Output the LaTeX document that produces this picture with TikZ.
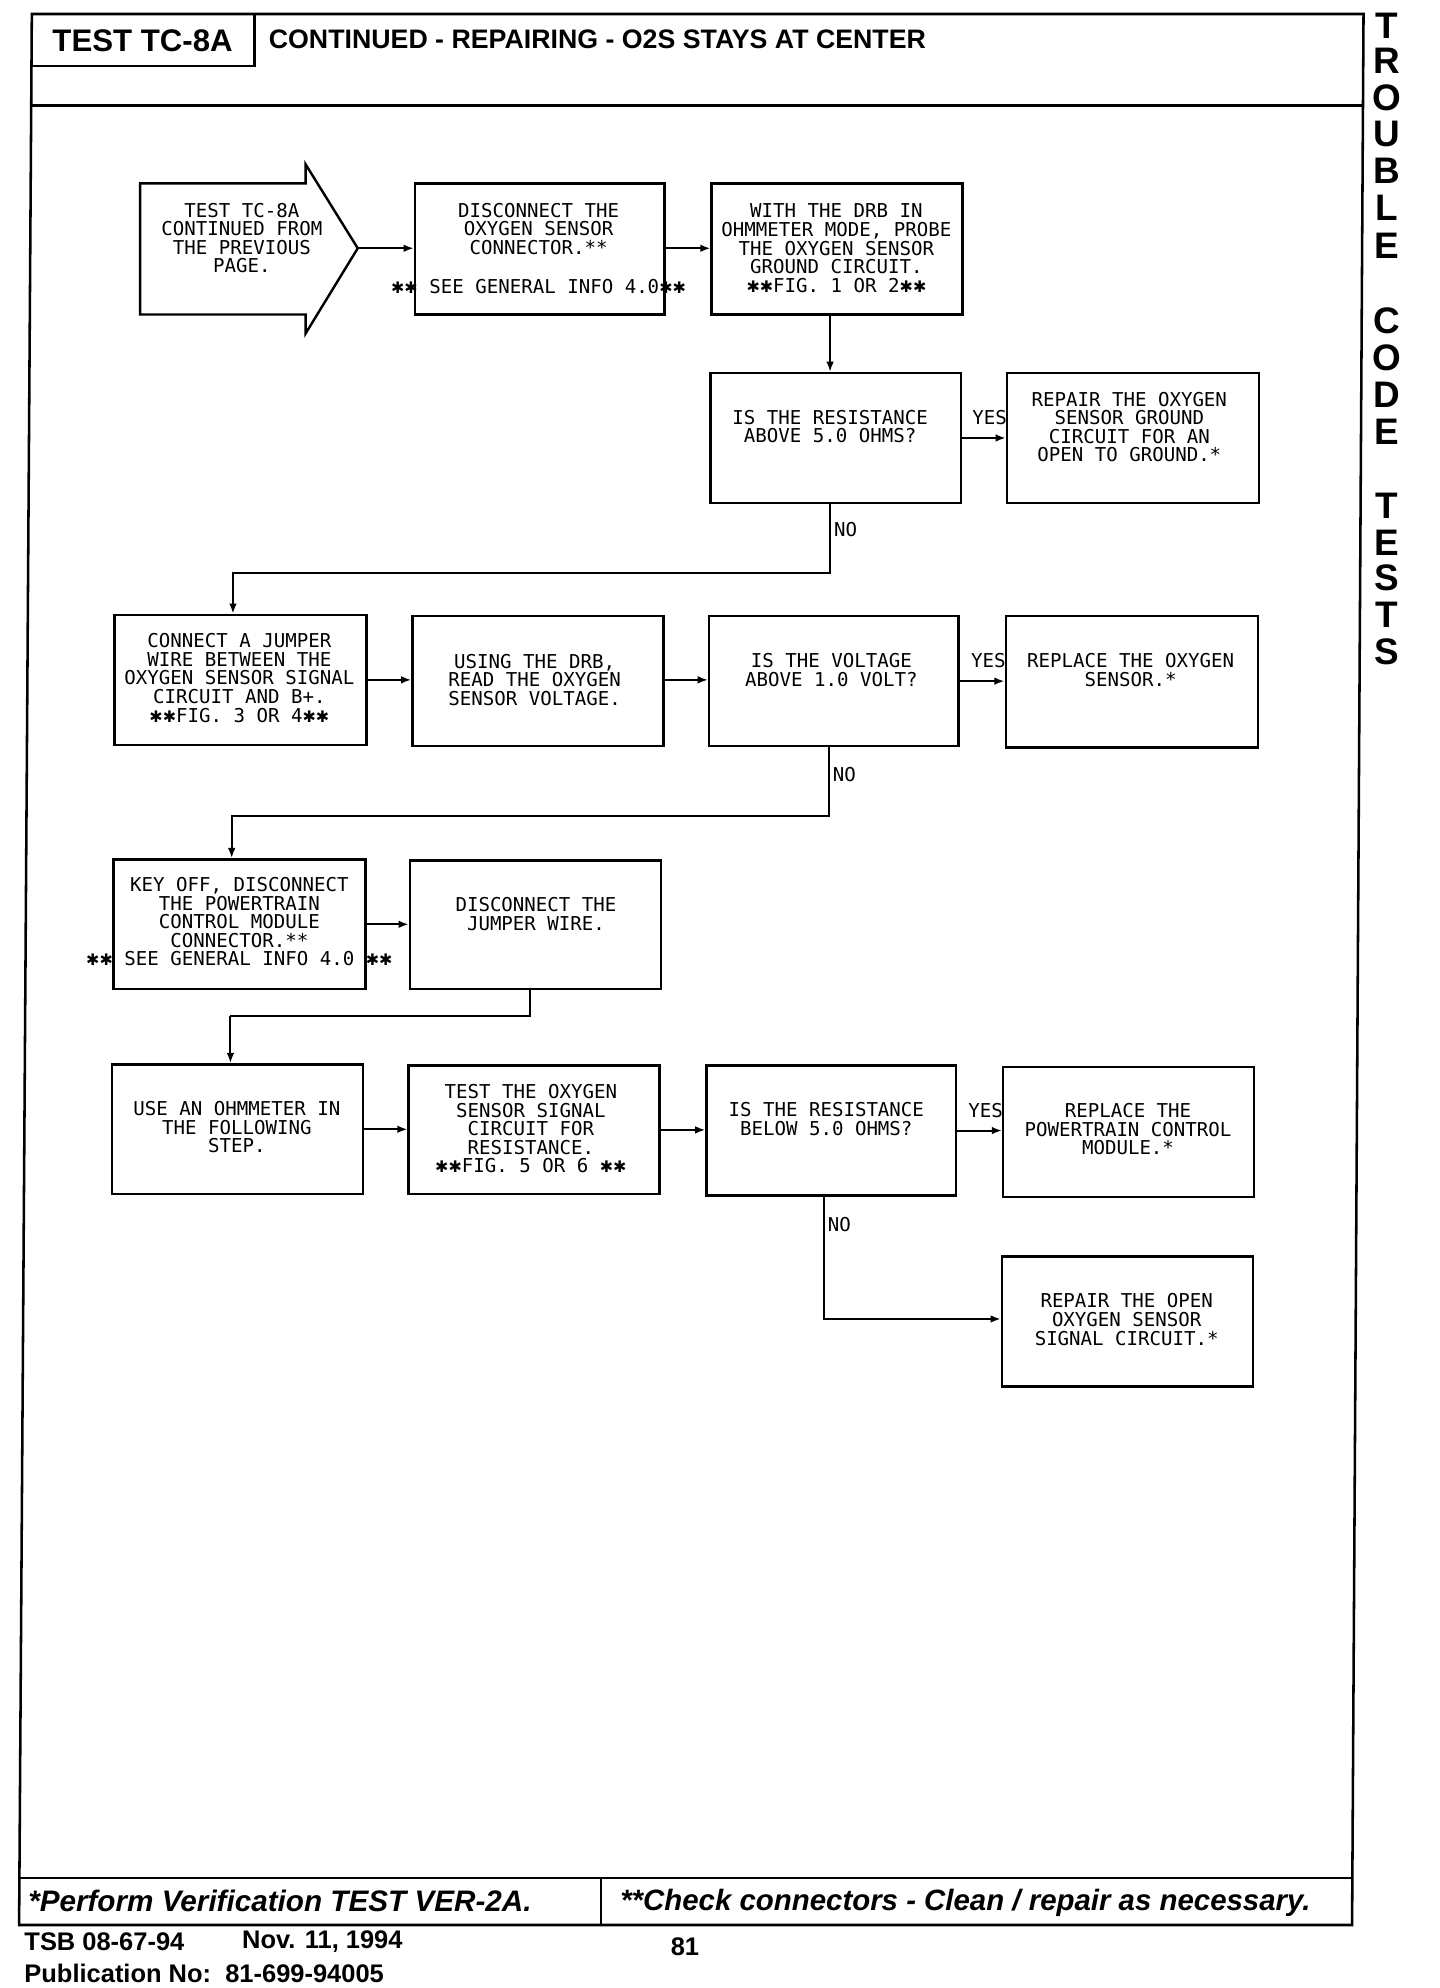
\documentclass[tikz,border=0pt]{standalone}
\usepackage{fontspec}
\setmainfont{Liberation Sans}
\newfontfamily\plotf{DejaVu Sans Mono}
\newfontfamily\symf{DejaVu Sans}
\usetikzlibrary{arrows.meta}
\newcommand{\dst}{{\symf\fontsize{12.5}{12.5}\selectfont ✱}}
\begin{document}
\begin{tikzpicture}[x=1pt,y=-1pt,
  box/.style={draw, line width=1.9pt, inner sep=0pt},
  txt/.style={font=\plotf\fontsize{15}{14.6}\selectfont, align=center, inner sep=0pt},
  lbl/.style={font=\plotf\fontsize{15}{14.6}\selectfont, inner sep=0pt},
  arr/.style={line width=1.6pt, -{Latex[length=8pt,width=6pt]}},
  ln/.style={line width=1.6pt},
  frm/.style={line width=2pt},
  hdr/.style={inner sep=0pt, font=\bfseries\fontsize{21}{21}\selectfont},
  foot/.style={inner sep=0pt, anchor=west, font=\bfseries\fontsize{20}{20}\selectfont},
  side/.style={inner sep=0pt, font=\bfseries\fontsize{29}{29}\selectfont}]
\useasboundingbox (0,0) rectangle (1131,1561.5);
\fill[white] (0,0) rectangle (1131,1561.5);

% frame
\draw[frm] (25,11) -- (1071,11) -- (1062,1512) -- (15,1512) -- cycle;
\draw[frm] (24.5,83) -- (1070.6,83);
\draw[frm] (25,52) -- (200,52) -- (200,11);
\draw[frm] (15.7,1475) -- (1062.2,1475);
\draw[frm] (472,1475) -- (472,1512);

\node[hdr, font=\bfseries\fontsize{24.5}{24.5}\selectfont] (hA) at (112,32) {TEST TC-8A};
\node[hdr, anchor=west] (hB) at (211,31) {CONTINUED - REPAIRING - O2S STAYS AT CENTER};

% side text
\foreach \ch/\yy [count=\i] in {T/20,R/48,O/77,U/105,B/134,L/163,E/193,C/252,O/281,D/310,E/339,T/397,E/426,S/454,T/483,S/512}
  \node[side] (s\i) at (1089,\yy) {\ch};

% footer
\node[foot, font=\bfseries\itshape\fontsize{23.3}{23.3}\selectfont] (f1) at (22,1493) {*Perform Verification TEST VER-2A.};
\node[foot, font=\bfseries\itshape\fontsize{23.1}{23.1}\selectfont] (f2) at (487,1495) {**Check connectors - Clean / repair as necessary.};
\node[foot] (f3) at (19,1525) {TSB 08-67-94};
\node[foot] (f4) at (190,1525) {Nov. 11, 1994};
\node[foot, anchor=center] (f5) at (538,1529) {81};
\node[foot] (f6) at (19,1550) {Publication No:\ \ 81-699-94005};

% start arrow shape
\draw[box] (110,144) -- (240,144) -- (240,129) -- (281,195) -- (240,262) -- (240,247) -- (110,247) -- cycle;
\coordinate (Atip) at (281,195);
\node[txt] (tA) at (190,187) {TEST TC-8A\\CONTINUED FROM\\THE PREVIOUS\\PAGE.};

% boxes
\node[box, minimum width=196pt, minimum height=103pt] (B) at (424,195.5) {};
\node[box, minimum width=197pt, minimum height=103pt] (C) at (657.5,195.5) {};
\node[box, minimum width=197pt, minimum height=102pt] (D) at (656.5,344) {};
\node[box, minimum width=198pt, minimum height=102pt] (E) at (890,344) {};
\node[box, minimum width=198pt, minimum height=102pt] (F) at (189,534) {};
\node[box, minimum width=197pt, minimum height=102pt] (G) at (422.5,535) {};
\node[box, minimum width=196pt, minimum height=102pt] (H) at (655,535) {};
\node[box, minimum width=198pt, minimum height=103pt] (I) at (889,535.5) {};
\node[box, minimum width=198pt, minimum height=102pt] (J) at (188,726) {};
\node[box, minimum width=197pt, minimum height=101pt] (K) at (420.5,726.5) {};
\node[box, minimum width=197pt, minimum height=102pt] (L) at (186.5,887) {};
\node[box, minimum width=197pt, minimum height=101pt] (M) at (419.5,887.5) {};
\node[box, minimum width=196pt, minimum height=102pt] (N) at (653,888) {};
\node[box, minimum width=197pt, minimum height=102pt] (O) at (886.5,889) {};
\node[box, minimum width=197pt, minimum height=102pt] (P) at (885.5,1038) {};

% texts
\node[txt] (tB) at (423,195) {DISCONNECT THE\\OXYGEN SENSOR\\CONNECTOR.**\\[16pt]\dst\dst\ SEE GENERAL INFO 4.0\dst\dst};
\node[txt] (tC) at (657,195) {WITH THE DRB IN\\OHMMETER MODE, PROBE\\THE OXYGEN SENSOR\\GROUND CIRCUIT.\\\dst\dst FIG. 1 OR 2\dst\dst};
\node[txt] (tD) at (652,335) {IS THE RESISTANCE\\ABOVE 5.0 OHMS?};
\node[txt] (tE) at (887,335.5) {REPAIR THE OXYGEN\\SENSOR GROUND\\CIRCUIT FOR AN\\OPEN TO GROUND.*};
\node[txt] (tF) at (188,532.5) {CONNECT A JUMPER\\WIRE BETWEEN THE\\OXYGEN SENSOR SIGNAL\\CIRCUIT AND B+.\\\dst\dst FIG. 3 OR 4\dst\dst};
\node[txt] (tG) at (420,534) {USING THE DRB,\\READ THE OXYGEN\\SENSOR VOLTAGE.};
\node[txt] (tH) at (653,526.5) {IS THE VOLTAGE\\ABOVE 1.0 VOLT?};
\node[txt] (tI) at (888,526.5) {REPLACE THE OXYGEN\\SENSOR.*};
\node[txt] (tJ) at (188,724) {KEY OFF, DISCONNECT\\THE POWERTRAIN\\CONTROL MODULE\\CONNECTOR.**\\\dst\dst\ SEE GENERAL INFO 4.0 \dst\dst};
\node[txt] (tK) at (421,718) {DISCONNECT THE\\JUMPER WIRE.};
\node[txt] (tL) at (186,885.5) {USE AN OHMMETER IN\\THE FOLLOWING\\STEP.};
\node[txt] (tM) at (417,886.5) {TEST THE OXYGEN\\SENSOR SIGNAL\\CIRCUIT FOR\\RESISTANCE.\\\dst\dst FIG. 5 OR 6 \dst\dst};
\node[txt] (tN) at (649,879) {IS THE RESISTANCE\\BELOW 5.0 OHMS?};
\node[txt] (tO) at (886,887) {REPLACE THE\\POWERTRAIN CONTROL\\MODULE.*};
\node[txt] (tP) at (885,1036.5) {REPAIR THE OPEN\\OXYGEN SENSOR\\SIGNAL CIRCUIT.*};

% routing coordinates
\coordinate (r1a) at (652,450);
\coordinate (r1b) at (183,450);
\coordinate (r2a) at (651,641);
\coordinate (r2b) at (182,641);
\coordinate (r3a) at (416,798);
\coordinate (r3b) at (181,798);
\coordinate (r4a) at (647,1036);

% connectors
\draw[arr] (Atip) -- (Atip -| B.west);
\draw[arr] (B.east |- Atip) -- (C.west |- Atip);
\draw[arr] (C.south -| r1a) -- (D.north -| r1a);
\draw[arr] (D.east) -- (D.east -| E.west);
\draw[arr] (D.south -| r1a) -- (r1a) -- (r1b) -- (F.north -| r1b);
\draw[arr] (F.east) -- (F.east -| G.west);
\draw[arr] (G.east |- F.east) -- (H.west |- F.east);
\draw[arr] (H.east) -- (H.east -| I.west);
\draw[arr] (H.south -| r2a) -- (r2a) -- (r2b) -- (J.north -| r2b);
\draw[arr] (J.east) -- (J.east -| K.west);
\draw[ln] (K.south -| r3a) -- (r3a) -- (r3b);
\draw[arr] (r3b) -- (L.north -| r3b);
\draw[arr] (L.east) -- (L.east -| M.west);
\draw[arr] (M.east) -- (M.east -| N.west);
\draw[arr] (N.east) -- (N.east -| O.west);
\draw[arr] (N.south -| r4a) -- (r4a) -- (r4a -| P.west);

% labels
\node[lbl, anchor=east] (y1) at (791,328) {YES};
\node[lbl, anchor=east] (y2) at (790,519) {YES};
\node[lbl, anchor=east] (y3) at (788,872) {YES};
\node[lbl, anchor=west] (n1) at (655,416) {NO};
\node[lbl, anchor=west] (n2) at (654,608) {NO};
\node[lbl, anchor=west] (n3) at (650,962) {NO};
\end{tikzpicture}
\end{document}
